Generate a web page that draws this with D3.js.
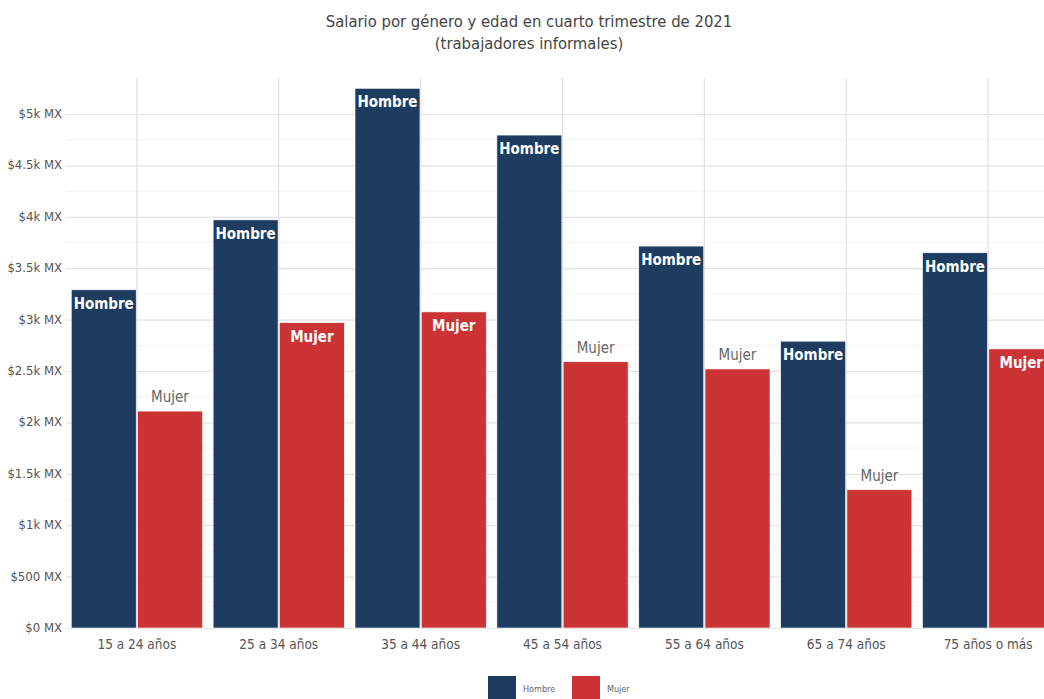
<!DOCTYPE html>
<html>
<head>
<meta charset="utf-8">
<script src="https://cdn.jsdelivr.net/npm/d3@7"></script>
<style>
	body { margin: 0; background: #fff; overflow: hidden; }
	svg { font-family: 'Liberation Sans Narrow', 'DejaVu Sans Condensed', sans-serif; }
	.tick-label { fill: #555; font-size: 13px; }
	.title { fill: #444; font-size: 16.5px; }
</style>
</head>
<body>
<script>
/* Data. */
const categories = ['15 a 24 años', '25 a 34 años', '35 a 44 años', '45 a 54 años',
	'55 a 64 años', '65 a 74 años', '75 años o más'];
const series = ['Hombre', 'Mujer'];
const hombre = [3290, 3970, 5250, 4795, 3715, 2790, 3650];
const mujer = [2110, 2970, 3075, 2590, 2520, 1345, 2715];
const yTicks = [0, 500, 1000, 1500, 2000, 2500, 3000, 3500, 4000, 4500, 5000];
const yTickLabels = ['$0 MX', '$500 MX', '$1k MX', '$1.5k MX', '$2k MX', '$2.5k MX',
	'$3k MX', '$3.5k MX', '$4k MX', '$4.5k MX', '$5k MX'];
const colors = ['#1d3c5f', '#cb3335'];

/**
 * Draws the grouped bar chart.
 */
function createChart() {
	const width = 1044;
	const height = 699;
	const plot = { left: 66, right: 1059, top: 78, bottom: 628 };

	const svg = d3.select('body').append('svg')
		.attr('width', width)
		.attr('height', height);

	let xScale = d3.scaleBand()
		.domain(categories)
		.range([plot.left, plot.right])
		.paddingInner(0.075)
		.paddingOuter(0.037);
	let xInner = d3.scaleBand()
		.domain(series)
		.range([0, xScale.bandwidth()])
		.paddingInner(0.02);
	let yScale = d3.scaleLinear()
		.domain([0, 5000])
		.range([plot.bottom, plot.bottom - 514]);

	/* Title. */
	svg.append('text')
		.attr('class', 'title')
		.attr('x', 529).attr('y', 27)
		.attr('text-anchor', 'middle')
		.text('Salario por género y edad en cuarto trimestre de 2021');
	svg.append('text')
		.attr('class', 'title')
		.attr('x', 529).attr('y', 49)
		.attr('text-anchor', 'middle')
		.text('(trabajadores informales)');

	/* Minor gridlines. */
	svg.append('g')
		.selectAll('line')
		.data(d3.range(250, 5250, 500))
		.enter().append('line')
			.attr('x1', plot.left).attr('x2', plot.right)
			.attr('y1', d => yScale(d)).attr('y2', d => yScale(d))
			.attr('stroke', '#f3f3f3')
			.attr('stroke-width', 1);

	/* Major gridlines. */
	svg.append('g')
		.call(d3.axisLeft(yScale)
			.tickValues(yTicks)
			.tickSize(-(plot.right - plot.left))
			.tickFormat(''))
		.attr('transform', 'translate(' + plot.left + ',0)')
		.call(g => g.select('.domain').remove())
		.call(g => g.selectAll('line').attr('stroke', '#e2e2e2').attr('stroke-width', 1.2));

	/* Vertical gridlines at category centres. */
	svg.append('g')
		.selectAll('line')
		.data(categories)
		.enter().append('line')
			.attr('x1', d => xScale(d) + xScale.bandwidth() / 2)
			.attr('x2', d => xScale(d) + xScale.bandwidth() / 2)
			.attr('y1', plot.top).attr('y2', plot.bottom)
			.attr('stroke', '#e2e2e2')
			.attr('stroke-width', 1.2);

	/* Y tick labels. */
	svg.append('g')
		.selectAll('text')
		.data(yTicks)
		.enter().append('text')
			.attr('class', 'tick-label')
			.attr('x', 62)
			.attr('y', d => yScale(d) + 4)
			.attr('text-anchor', 'end')
			.text((d, i) => yTickLabels[i]);

	/* X labels. */
	svg.append('g')
		.selectAll('text')
		.data(categories)
		.enter().append('text')
			.attr('class', 'tick-label')
			.attr('x', d => xScale(d) + xScale.bandwidth() / 2)
			.attr('y', 649)
			.attr('text-anchor', 'middle')
			.style('font-size', '13.5px')
			.text(d => d);

	/* Bars. */
	let rows = [];
	categories.forEach(function(category, index) {
		rows.push({ category: category, name: 'Hombre', value: hombre[index], color: colors[0] });
		rows.push({ category: category, name: 'Mujer', value: mujer[index], color: colors[1] });
	});

	let bars = svg.append('g')
		.selectAll('g')
		.data(rows)
		.enter().append('g');

	bars.append('rect')
		.attr('x', d => xScale(d.category) + xInner(d.name))
		.attr('width', xInner.bandwidth())
		.attr('y', d => yScale(d.value))
		.attr('height', d => yScale(0) - yScale(d.value))
		.attr('fill', d => d.color)
		.attr('stroke', '#fff')
		.attr('stroke-width', 0.6);

	/* Labels: inside the bar if there is room, else above it. */
	let inside = d => d.name === 'Hombre' || d.value > 2650;
	bars.append('text')
		.attr('x', d => xScale(d.category) + xInner(d.name) + xInner.bandwidth() / 2)
		.attr('y', d => inside(d) ? yScale(d.value) + 19 : yScale(d.value) - 9)
		.attr('text-anchor', 'middle')
		.style('font-size', '15px')
		.style('font-weight', d => inside(d) ? 'bold' : 'normal')
		.attr('fill', d => inside(d) ? '#fff' : '#666')
		.text(d => d.name);

	/* Legend. */
	let legend = svg.append('g')
		.selectAll('g')
		.data(series)
		.enter().append('g')
			.attr('transform', (d, i) => 'translate(' + (488 + i * 84) + ',676)');
	legend.append('rect')
		.attr('width', 28).attr('height', 26)
		.attr('fill', (d, i) => colors[i]);
	legend.append('text')
		.attr('x', 35).attr('y', 16)
		.attr('fill', '#666')
		.style('font-size', '9px')
		.text(d => d);
}

window.onload = function() {
	createChart();
};
</script>
</body>
</html>
